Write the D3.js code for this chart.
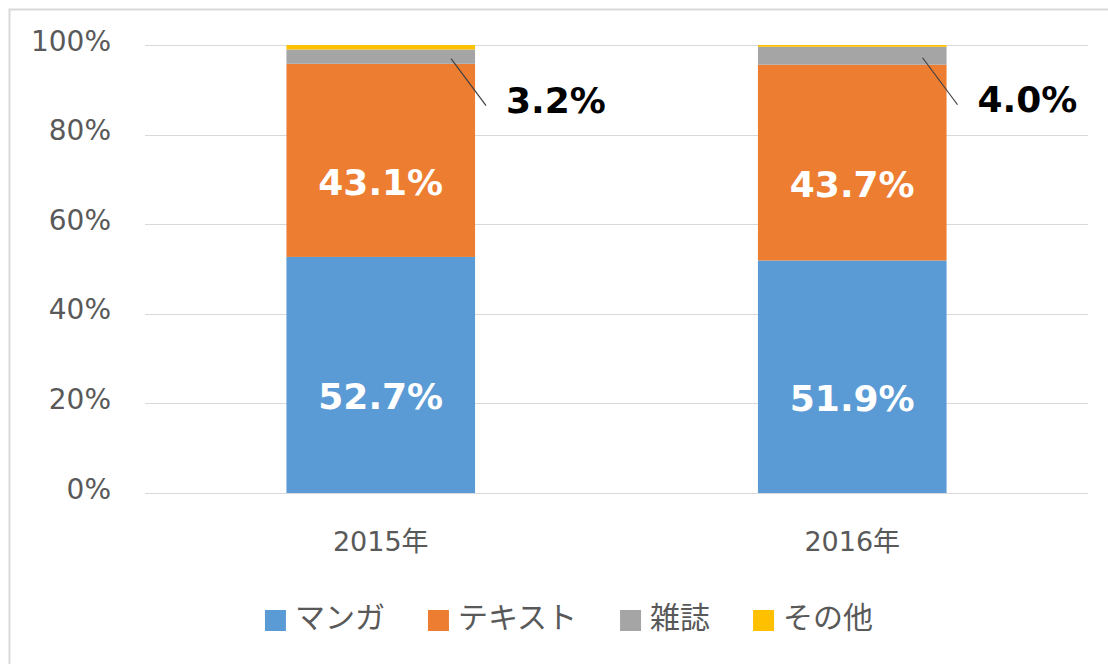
<!DOCTYPE html>
<html>
<head>
<meta charset="utf-8">
<script src="https://cdn.jsdelivr.net/npm/d3@7"></script>
<style>
  body { margin: 0; background: #fff; }
  svg { display: block; font-family: "DejaVu Sans", "Noto Sans CJK JP", sans-serif; }
  .jp { font-family: "Noto Sans CJK JP", sans-serif; }
</style>
</head>
<body>
<svg id="chart" width="1108" height="664"></svg>
<script>
const years = ["2015年", "2016年"];
const seriesNames = ["マンガ", "テキスト", "雑誌", "その他"];
const manga = [52.7, 51.9];
const text = [43.1, 43.7];
const magazine = [3.2, 4.0];
const other = [1.0, 0.4];
const yTicks = [0, 20, 40, 60, 80, 100];
const colors = {
  "マンガ": "#5b9bd5",
  "テキスト": "#ed7d31",
  "雑誌": "#a5a5a5",
  "その他": "#ffc000",
};

const svg = d3.select("#chart");
const margin = { left: 145, right: 20, top: 45, bottom: 171 };
const width = 1108, height = 664;

// chart border (no right/bottom edge visible in the source)
svg.append("path")
  .attr("d", `M9.5,${height} V9.5 H${width}`)
  .attr("fill", "none")
  .attr("stroke", "#d9d9d9")
  .attr("stroke-width", 2);

const rows = years.map((y, i) => ({
  year: y,
  "マンガ": manga[i],
  "テキスト": text[i],
  "雑誌": magazine[i],
  "その他": other[i],
}));

const stack = d3.stack().keys(seriesNames);
const series = stack(rows);

const x = d3.scaleBand().domain(years).range([margin.left, width - margin.right]).padding(0);
const barW = x.bandwidth() * 0.4;
const y = d3.scaleLinear().domain([0, 100]).range([height - margin.bottom, margin.top]);

// gridlines + tick labels
const yAxis = svg.append("g").attr("class", "yAxis");
yAxis.selectAll("line")
  .data(yTicks)
  .join("line")
  .attr("x1", margin.left)
  .attr("x2", width - margin.right)
  .attr("y1", (d) => Math.round(y(d)) + 0.5)
  .attr("y2", (d) => Math.round(y(d)) + 0.5)
  .attr("stroke", "#d9d9d9")
  .attr("stroke-width", 1);
yAxis.selectAll("text")
  .data(yTicks)
  .join("text")
  .attr("x", 111)
  .attr("y", (d) => y(d) - 4)
  .attr("text-anchor", "end")
  .attr("dominant-baseline", "central")
  .attr("fill", "#595959")
  .attr("font-size", 28)
  .text((d) => d + "%");

// bars
const bars = svg.append("g").attr("class", "bars");
bars.selectAll("g")
  .data(series)
  .join("g")
  .attr("fill", (d) => colors[d.key])
  .selectAll("rect")
  .data((d) => d)
  .join("rect")
  .attr("x", (d) => x(d.data.year) + (x.bandwidth() - barW) / 2)
  .attr("width", barW)
  .attr("y", (d) => y(d[1]))
  .attr("height", (d) => y(d[0]) - y(d[1]));

// inner labels for マンガ and テキスト
const labels = svg.append("g").attr("class", "labels");
series.slice(0, 2).forEach((s) => {
  labels.selectAll(null)
    .data(s)
    .join("text")
    .attr("x", (d) => x(d.data.year) + x.bandwidth() / 2)
    .attr("y", (d) => (y(d[0]) + y(d[1])) / 2 + 22)
    .attr("text-anchor", "middle")
    .attr("dominant-baseline", "central")
    .attr("fill", "#fff")
    .attr("font-weight", "bold")
    .attr("font-size", 36)
    .text((d) => (d[1] - d[0]).toFixed(1) + "%");
});

// outside label for 雑誌 with leader line
const mag = series[2];
labels.selectAll(null)
  .data(mag)
  .join("line")
  .attr("x1", (d) => x(d.data.year) + (x.bandwidth() + barW) / 2 - 24)
  .attr("y1", (d) => (y(d[0]) + y(d[1])) / 2 + 2)
  .attr("x2", (d) => x(d.data.year) + (x.bandwidth() + barW) / 2 + 11)
  .attr("y2", (d) => (y(d[0]) + y(d[1])) / 2 + 49)
  .attr("stroke", "#404040")
  .attr("stroke-width", 1.2);
labels.selectAll(null)
  .data(mag)
  .join("text")
  .attr("x", (d) => x(d.data.year) + (x.bandwidth() + barW) / 2 + 31)
  .attr("y", (d) => (y(d[0]) + y(d[1])) / 2 + 44)
  .attr("dominant-baseline", "central")
  .attr("fill", "#000")
  .attr("font-weight", "bold")
  .attr("font-size", 36)
  .text((d) => (d[1] - d[0]).toFixed(1) + "%");

// category labels
svg.append("g")
  .selectAll("text")
  .data(years)
  .join("text")
  .attr("x", (d) => x(d) + x.bandwidth() / 2)
  .attr("y", 541)
  .attr("text-anchor", "middle")
  .attr("dominant-baseline", "central")
  .attr("fill", "#595959")
  .attr("font-size", 27)
  .text((d) => d);

// legend
const legend = svg.append("g").attr("class", "legend");
const items = legend.selectAll("g")
  .data(seriesNames)
  .join("g");
items.append("rect")
  .attr("width", 21)
  .attr("height", 21)
  .attr("y", -10)
  .attr("fill", (d) => colors[d]);
items.append("text")
  .attr("class", "jp")
  .attr("x", 30)
  .attr("y", -5)
  .attr("dominant-baseline", "central")
  .attr("fill", "#595959")
  .attr("font-size", 30)
  .text((d) => d);
let offset = 0;
const widths = [];
items.each(function () {
  const w = this.querySelector("text").getComputedTextLength() + 30;
  widths.push(w);
});
const gap = 43;
const total = d3.sum(widths) + gap * (widths.length - 1);
offset = 569 - total / 2;
items.attr("transform", (d, i) => {
  const t = `translate(${offset},620)`;
  offset += widths[i] + gap;
  return t;
});
</script>
</body>
</html>
